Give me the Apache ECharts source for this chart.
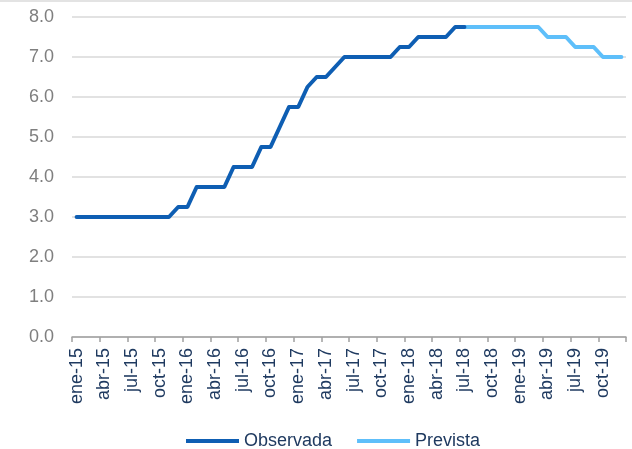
<!DOCTYPE html>
<html>
<head>
<meta charset="utf-8">
<script src="https://cdn.jsdelivr.net/npm/echarts@6/dist/echarts.min.js"></script>
<style>
  html, body { margin: 0; padding: 0; background: #ffffff; }
  #chart { width: 632px; height: 449px; }
</style>
</head>
<body>
<div id="chart"></div>
<script>
// Monthly policy rate (%), January 2015 to December 2019
const monthNames = ['ene', 'feb', 'mar', 'abr', 'may', 'jun', 'jul', 'ago', 'sep', 'oct', 'nov', 'dic'];
const years = ['15', '16', '17', '18', '19'];

// Observed rate, ene-15 .. jul-18
const observada = [
  3.00, 3.00, 3.00, 3.00, 3.00, 3.00, 3.00, 3.00, 3.00, 3.00, 3.00, 3.25,
  3.25, 3.75, 3.75, 3.75, 3.75, 4.25, 4.25, 4.25, 4.75, 4.75, 5.25, 5.75,
  5.75, 6.25, 6.50, 6.50, 6.75, 7.00, 7.00, 7.00, 7.00, 7.00, 7.00, 7.25,
  7.25, 7.50, 7.50, 7.50, 7.50, 7.75, 7.75
];

// Expected path, jul-18 .. dic-19
const prevista = [
  7.75, 7.75, 7.75, 7.75, 7.75, 7.75, 7.75, 7.75, 7.75,
  7.50, 7.50, 7.50, 7.25, 7.25, 7.25, 7.00, 7.00, 7.00
];

const yTicks = { min: 0, max: 8, step: 1 };

const categories = [];
years.forEach(y => monthNames.forEach(m => categories.push(m + '-' + y)));

// Align both series on the shared monthly axis
const observedSeries = categories.map((_, i) => i < observada.length ? observada[i] : null);
const forecastStart = categories.length - prevista.length;
const forecastSeries = categories.map((_, i) => i >= forecastStart ? prevista[i - forecastStart] : null);

const navy = '#1f3a60';
const font = 'Liberation Sans, Arial, sans-serif';

const chart = echarts.init(document.getElementById('chart'), null, { renderer: 'canvas' });
chart.setOption({
  animation: false,
  backgroundColor: '#ffffff',
  graphic: [{
    type: 'rect',
    shape: { x: 0, y: 0, width: 632, height: 2 },
    style: { fill: '#e3e3e3' },
    silent: true
  }],
  grid: { left: 72, right: 6, top: 17, bottom: 112, containLabel: false },
  legend: {
    top: 427,
    left: 181,
    icon: 'rect',
    itemWidth: 53,
    itemHeight: 4,
    itemGap: 25,
    textStyle: { color: navy, fontSize: 18, fontFamily: font },
    data: ['Observada', 'Prevista']
  },
  xAxis: {
    type: 'category',
    data: categories,
    boundaryGap: true,
    axisLine: { lineStyle: { color: '#a0a0a0', width: 1.5 } },
    axisTick: { show: true, interval: 2, length: 5, lineStyle: { color: '#a0a0a0', width: 1.5 } },
    axisLabel: {
      interval: 2,
      rotate: 90,
      margin: 11,
      color: navy,
      fontSize: 18,
      fontFamily: font
    },
    splitLine: { show: false }
  },
  yAxis: {
    type: 'value',
    min: yTicks.min,
    max: yTicks.max,
    interval: yTicks.step,
    axisLine: { show: false },
    axisTick: { show: false },
    axisLabel: {
      margin: 18,
      color: '#7f7f7f',
      fontSize: 18,
      fontFamily: font,
      formatter: v => v.toFixed(1)
    },
    splitLine: { lineStyle: { color: '#d9d9d9', width: 1.5 } }
  },
  series: [
    {
      name: 'Observada',
      type: 'line',
      data: observedSeries,
      showSymbol: false,
      symbol: 'none',
      color: '#0e5eb3',
      lineStyle: { color: '#0e5eb3', width: 4, join: 'round', cap: 'round' },
      z: 3
    },
    {
      name: 'Prevista',
      type: 'line',
      data: forecastSeries,
      showSymbol: false,
      symbol: 'none',
      color: '#5ebffa',
      lineStyle: { color: '#5ebffa', width: 4, join: 'round', cap: 'round' },
      z: 2
    }
  ]
});
</script>
</body>
</html>
